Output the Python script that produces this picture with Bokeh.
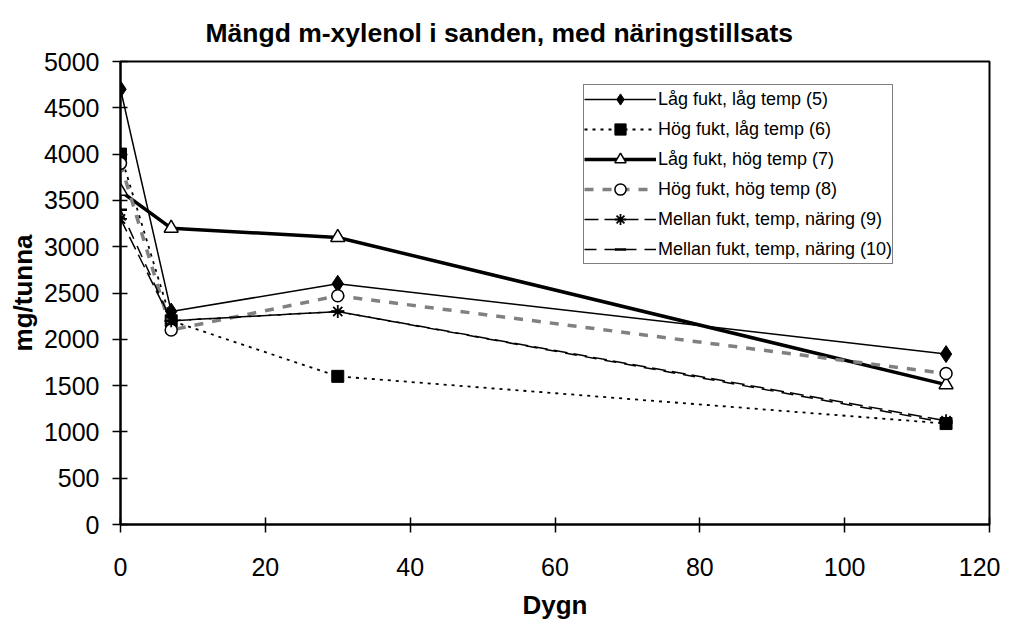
from bokeh.plotting import figure
from bokeh.models import Legend, LegendItem, FixedTicker, Range1d
from bokeh.embed import file_html
from bokeh.resources import INLINE

x_days = [0, 7, 30, 114]
s5 = [4700, 2300, 2600, 1840]
s6 = [4000, 2200, 1600, 1090]
s7 = [3600, 3200, 3100, 1510]
s8 = [3900, 2100, 2470, 1630]
s9 = [3300, 2200, 2300, 1120]
s10 = [3400, 2200, 2300, 1100]
labels = ["Låg fukt, låg temp (5)", "Hög fukt, låg temp (6)", "Låg fukt, hög temp (7)",
          "Hög fukt, hög temp (8)", "Mellan fukt, temp, näring (9)", "Mellan fukt, temp, näring (10)"]
x_ticks = [0, 20, 40, 60, 80, 100, 120]
y_ticks = list(range(0, 5001, 500))

FONT = "Liberation Sans"

p = figure(width=1000, height=622, output_backend="svg", toolbar_location=None,
           x_range=Range1d(0, 120), y_range=Range1d(0, 5000),
           min_border_left=120, min_border_right=11, min_border_top=61, min_border_bottom=97)
p.title.text = "Mängd m-xylenol i sanden, med näringstillsats"
p.title.text_font = FONT
p.title.text_font_size = "26.5px"
p.title.text_font_style = "bold"
p.title.text_color = "black"
p.title.align = "left"
p.title.offset = 85
p.title.standoff = 27

p.xgrid.visible = False
p.ygrid.visible = False
p.outline_line_color = "black"
p.outline_line_width = 2
p.outline_line_alpha = 1
p.background_fill_color = "white"
p.border_fill_color = "white"

for ax in (p.xaxis[0], p.yaxis[0]):
    ax.axis_line_color = "black"
    ax.axis_line_width = 2
    ax.major_tick_line_color = "black"
    ax.major_tick_line_width = 1.5
    ax.major_tick_out = 8
    ax.major_tick_in = 7
    ax.minor_tick_line_color = None
    ax.major_label_text_font = FONT
    ax.major_label_text_font_size = "25px"
    ax.major_label_text_color = "black"
    ax.axis_label_text_font = FONT
    ax.axis_label_text_font_size = "26px"
    ax.axis_label_text_font_style = "bold"
    ax.axis_label_text_color = "black"

p.xaxis.ticker = FixedTicker(ticks=x_ticks)
p.yaxis.ticker = FixedTicker(ticks=y_ticks)
p.xaxis.axis_label = "Dygn"
p.yaxis.axis_label = "mg/tunna"
p.xaxis.major_label_standoff = 25
p.yaxis.major_label_standoff = 13
p.xaxis.axis_label_standoff = 11
p.yaxis.axis_label_standoff = 3

items = []
# 5
l = p.line(x_days, s5, line_color="black", line_width=1.5)
m = p.scatter(x_days, s5, marker="diamond", size=17, fill_color="black", line_color="black")
items.append(LegendItem(label=labels[0], renderers=[l, m]))
# 6
l = p.line(x_days, s6, line_color="black", line_width=1.8, line_dash="3 5")
m = p.scatter(x_days, s6, marker="square", size=12, fill_color="black", line_color="black")
items.append(LegendItem(label=labels[1], renderers=[l, m]))
# 7
l = p.line(x_days, s7, line_color="black", line_width=3.5)
m = p.scatter(x_days, s7, marker="triangle", size=14, fill_color="white", line_color="black", line_width=1.5)
items.append(LegendItem(label=labels[2], renderers=[l, m]))
# 8
l = p.line(x_days, s8, line_color="#808080", line_width=3.5, line_dash="9 9")
m = p.scatter(x_days, s8, marker="circle", size=12, fill_color="white", line_color="black", line_width=1.5)
items.append(LegendItem(label=labels[3], renderers=[l, m]))
# 9
l = p.line(x_days, s9, line_color="black", line_width=1.5, line_dash="14 6")
m = p.scatter(x_days, s9, marker="asterisk", size=13, fill_color="black", line_color="black", line_width=1.8)
items.append(LegendItem(label=labels[4], renderers=[l, m]))
# 10
l = p.line(x_days, s10, line_color="black", line_width=1.5, line_dash="12 8")
m = p.scatter(x_days, s10, marker="dash", size=13, fill_color="black", line_color="black", line_width=2.5)
items.append(LegendItem(label=labels[5], renderers=[l, m]))

legend = Legend(items=items, location=(463, 260))
legend.label_text_font = FONT
legend.label_text_font_size = "18px"
legend.label_text_color = "black"
legend.glyph_width = 72
legend.glyph_height = 28
legend.label_height = 28
legend.spacing = 2
legend.padding = 0
legend.margin = 0
legend.label_standoff = 2
legend.border_line_color = "black"
legend.border_line_width = 1.5
legend.background_fill_color = "white"
legend.background_fill_alpha = 1
p.add_layout(legend, "center")

open("out.html", "w").write(file_html(p, INLINE))
